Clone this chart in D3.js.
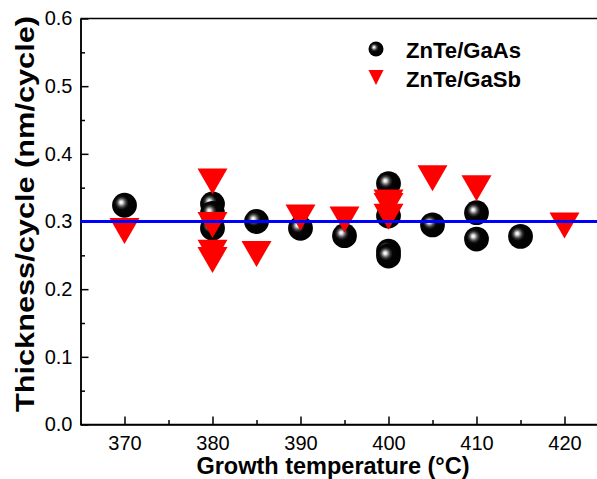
<!DOCTYPE html>
<html>
<head>
<meta charset="utf-8">
<script src="https://cdn.jsdelivr.net/npm/d3@7"></script>
<style>
  body { margin: 0; background: #fff; }
  svg { display: block; font-family: "Liberation Sans", Arial, sans-serif; }
</style>
</head>
<body>
<svg width="597" height="479"></svg>
<script>
// growth rate per ALD cycle
var gaAsTemp  = [370, 380, 380, 380, 385, 390, 395, 400, 400, 400, 400, 405, 410, 410, 415];
var gaAsThick = [0.324, 0.326, 0.312, 0.290, 0.300, 0.290, 0.279, 0.356, 0.308, 0.256, 0.249, 0.295, 0.313, 0.274, 0.278];

var gaSbTemp  = [370, 380, 380, 380, 380, 385, 390, 395, 400, 400, 400, 405, 410, 420];
var gaSbThick = [0.286, 0.359, 0.295, 0.254, 0.243, 0.252, 0.306, 0.303, 0.328, 0.323, 0.307, 0.364, 0.349, 0.294];

var refLine = 0.3;
var xTicks = [370, 380, 390, 400, 410, 420];
var yTicks = [0.0, 0.1, 0.2, 0.3, 0.4, 0.5, 0.6];
var seriesNames = ['ZnTe/GaAs', 'ZnTe/GaSb'];

var svg = d3.select("svg");
var plotLeft = 80.5, plotTop = 18.5, plotBottom = 424.5;

var x = d3.scaleLinear().domain([365, 425]).range([plotLeft, plotLeft + 60 * 8.8]);
var y = d3.scaleLinear().domain([0, 0.6]).range([plotBottom, plotTop]);

// shiny black sphere
var grad = svg.append("defs").append("radialGradient")
  .attr("id", "sphere")
  .attr("cx", 0.42).attr("cy", 0.42).attr("r", 0.55)
  .attr("fx", 0.36).attr("fy", 0.38);
[[0, "#ffffff"], [0.1, "#e8e8e8"], [0.2, "#9a9a9a"], [0.34, "#3a3a3a"], [0.5, "#050505"], [1, "#000000"]]
  .forEach(function(s) { grad.append("stop").attr("offset", s[0]).attr("stop-color", s[1]); });

function triangle(w, h)
{
  return "M" + (-w/2) + "," + (-h/2) + "L" + (w/2) + "," + (-h/2) + "L0," + (h/2) + "Z";
}

// axes (ticks point inward)
var g = svg.append("g");

g.append("line")
  .attr("x1", plotLeft).attr("x2", 597).attr("y1", plotTop).attr("y2", plotTop)
  .attr("stroke", "#000").attr("stroke-width", 1.5);

var xAxis = g.append("g")
  .attr("transform", "translate(0," + plotBottom + ")")
  .call(d3.axisBottom(x).tickValues(xTicks).tickFormat(d3.format("d"))
        .tickSizeInner(-8).tickSizeOuter(0).tickPadding(11));
g.append("g")
  .attr("transform", "translate(0," + plotBottom + ")")
  .call(d3.axisBottom(x).tickValues([375, 385, 395, 405, 415]).tickFormat("")
        .tickSizeInner(-4.5).tickSizeOuter(0));

var yAxis = g.append("g")
  .attr("transform", "translate(" + plotLeft + ",0)")
  .call(d3.axisLeft(y).tickValues(yTicks).tickFormat(d3.format(".1f"))
        .tickSizeInner(-8).tickSizeOuter(0).tickPadding(8));
g.append("g")
  .attr("transform", "translate(" + plotLeft + ",0)")
  .call(d3.axisLeft(y).tickValues([0.05, 0.15, 0.25, 0.35, 0.45, 0.55]).tickFormat("")
        .tickSizeInner(-4.5).tickSizeOuter(0));

g.selectAll(".domain, .tick line").attr("stroke", "#000").attr("stroke-width", 1.5);
g.selectAll(".tick text").style("font-size", "20px").attr("fill", "#000");
xAxis.select(".domain").attr("d", "M" + plotLeft + ",0H597");

// points
var gaAs = gaAsTemp.map(function(t, i) { return {T: t, V: gaAsThick[i]}; });
var gaSb = gaSbTemp.map(function(t, i) { return {T: t, V: gaSbThick[i]}; });

svg.append("g").selectAll("circle")
  .data(gaAs).enter().append("circle")
  .attr("cx", function(d) { return x(d.T); })
  .attr("cy", function(d) { return y(d.V); })
  .attr("r", 12.4)
  .attr("fill", "url(#sphere)");

svg.append("g").selectAll("path")
  .data(gaSb).enter().append("path")
  .attr("d", triangle(30, 26))
  .attr("transform", function(d) { return "translate(" + x(d.T) + "," + y(d.V) + ")"; })
  .attr("fill", "#ff0000");

// 0.3 nm/cycle reference
svg.append("line")
  .attr("x1", plotLeft).attr("x2", 597)
  .attr("y1", y(refLine)).attr("y2", y(refLine))
  .attr("stroke", "#0000ff").attr("stroke-width", 3);

// legend
var leg = svg.append("g");
leg.append("circle").attr("cx", 376).attr("cy", 49).attr("r", 7.5).attr("fill", "url(#sphere)");
leg.append("path").attr("d", triangle(15, 15)).attr("transform", "translate(376,77.5)").attr("fill", "#ff0000");
leg.selectAll("text").data(seriesNames).enter().append("text")
  .attr("x", 406)
  .attr("y", function(d, i) { return 58 + i * 28.5; })
  .attr("textLength", 115).attr("lengthAdjust", "spacingAndGlyphs")
  .style("font-size", "22px").style("font-weight", "bold")
  .text(function(d) { return d; });

// axis titles
svg.append("text")
  .attr("x", 333).attr("y", 474)
  .attr("text-anchor", "middle")
  .style("font-size", "23.5px").style("font-weight", "bold")
  .text("Growth temperature (°C)");

svg.append("text")
  .attr("transform", "translate(34,214) rotate(-90)")
  .attr("text-anchor", "middle")
  .attr("textLength", 396).attr("lengthAdjust", "spacingAndGlyphs")
  .style("font-size", "26px").style("font-weight", "bold")
  .text("Thickness/cycle (nm/cycle)");
</script>
</body>
</html>
